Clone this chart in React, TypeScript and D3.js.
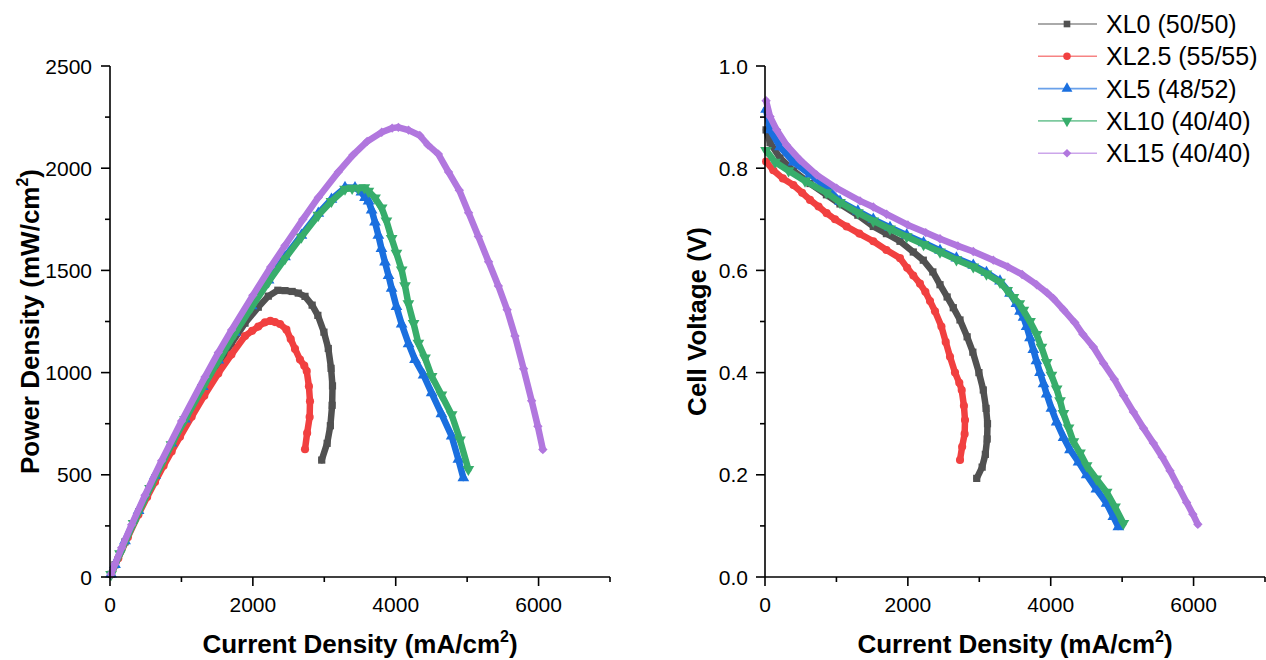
import React from 'react';
import * as d3 from 'd3';

// ---------- data ----------
const seriesNames = ['XL0 (50/50)', 'XL2.5 (55/55)', 'XL5 (48/52)', 'XL10 (40/40)', 'XL15 (40/40)'];
const seriesColors = ['#515151', '#F14040', '#1A6FDF', '#37AD6B', '#B177DE'];
const seriesMarkers = ['square', 'circle', 'triangleUp', 'triangleDown', 'diamond'];

const xl0Current = [15, 70, 210, 400, 630, 860, 1050, 1300, 1516, 1700, 1890, 2076, 2216, 2350, 2450, 2550, 2636, 2730, 2830, 2910, 2995, 3056, 3095, 3115, 3110, 3085, 3040, 2964];
const xl0Voltage = [0.875, 0.85, 0.82, 0.795, 0.77, 0.748, 0.73, 0.708, 0.686, 0.672, 0.657, 0.636, 0.62, 0.597, 0.572, 0.548, 0.527, 0.503, 0.47, 0.44, 0.4, 0.366, 0.33, 0.3, 0.27, 0.24, 0.215, 0.193];
const xl0Power = [13, 60, 172, 318, 485, 643, 767, 920, 1040, 1142, 1242, 1320, 1374, 1403, 1401, 1397, 1389, 1373, 1330, 1280, 1198, 1118, 1021, 935, 840, 740, 654, 572];

const xl25Current = [15, 116, 250, 397, 520, 630, 750, 863, 980, 1143, 1320, 1516, 1700, 1890, 1990, 2076, 2170, 2245, 2310, 2380, 2470, 2530, 2590, 2660, 2720, 2754, 2785, 2800, 2795, 2760, 2730];
const xl25Voltage = [0.813, 0.796, 0.78, 0.767, 0.752, 0.738, 0.725, 0.712, 0.7, 0.686, 0.672, 0.657, 0.64, 0.624, 0.605, 0.59, 0.574, 0.558, 0.54, 0.52, 0.49, 0.46, 0.431, 0.4, 0.38, 0.366, 0.335, 0.307, 0.28, 0.255, 0.229];
const xl25Power = [12, 92, 195, 305, 391, 465, 544, 614, 686, 784, 887, 996, 1088, 1179, 1204, 1225, 1246, 1253, 1247, 1238, 1210, 1164, 1116, 1064, 1034, 1008, 933, 860, 783, 704, 625];

const xl5Current = [15, 70, 210, 400, 630, 860, 1050, 1300, 1516, 1750, 1984, 2220, 2450, 2680, 2916, 3100, 3290, 3430, 3520, 3570, 3620, 3663, 3710, 3757, 3800, 3850, 3900, 3943, 4010, 4083, 4180, 4270, 4390, 4503, 4640, 4783, 4877, 4947];
const xl5Voltage = [0.915, 0.875, 0.842, 0.812, 0.788, 0.762, 0.735, 0.716, 0.7, 0.684, 0.669, 0.654, 0.639, 0.624, 0.61, 0.596, 0.579, 0.555, 0.535, 0.52, 0.508, 0.49, 0.468, 0.445, 0.423, 0.4, 0.378, 0.358, 0.33, 0.303, 0.273, 0.249, 0.225, 0.2, 0.172, 0.144, 0.118, 0.098];
const xl5Power = [14, 61, 177, 325, 496, 655, 772, 931, 1061, 1197, 1327, 1452, 1566, 1672, 1779, 1848, 1905, 1904, 1883, 1856, 1839, 1795, 1736, 1672, 1607, 1540, 1474, 1412, 1323, 1237, 1141, 1063, 988, 901, 798, 689, 575, 485];

const xl10Current = [15, 140, 330, 560, 860, 1050, 1300, 1516, 1750, 1984, 2220, 2450, 2680, 2916, 3100, 3290, 3390, 3477, 3560, 3617, 3710, 3803, 3870, 3943, 4010, 4083, 4130, 4177, 4250, 4317, 4410, 4503, 4640, 4783, 4900, 5017];
const xl10Voltage = [0.835, 0.812, 0.795, 0.775, 0.752, 0.733, 0.713, 0.697, 0.681, 0.666, 0.651, 0.636, 0.621, 0.607, 0.593, 0.577, 0.561, 0.547, 0.535, 0.522, 0.5, 0.475, 0.45, 0.42, 0.395, 0.368, 0.345, 0.32, 0.292, 0.265, 0.243, 0.218, 0.192, 0.166, 0.137, 0.105];
const xl10Power = [13, 114, 262, 434, 647, 770, 927, 1057, 1192, 1321, 1445, 1558, 1664, 1770, 1838, 1898, 1902, 1902, 1905, 1888, 1855, 1806, 1742, 1656, 1584, 1503, 1425, 1337, 1241, 1144, 1072, 982, 891, 794, 671, 527];

const xl15Current = [15, 70, 163, 303, 490, 723, 1003, 1330, 1516, 1703, 2000, 2250, 2450, 2700, 2916, 3197, 3400, 3600, 3804, 3950, 4037, 4180, 4337, 4450, 4597, 4740, 4890, 5020, 5157, 5300, 5437, 5560, 5670, 5790, 5903, 5990, 6060];
const xl15Voltage = [0.932, 0.901, 0.875, 0.845, 0.816, 0.787, 0.761, 0.736, 0.724, 0.71, 0.689, 0.674, 0.662, 0.648, 0.637, 0.62, 0.607, 0.592, 0.572, 0.556, 0.545, 0.523, 0.498, 0.475, 0.45, 0.418, 0.387, 0.355, 0.323, 0.291, 0.262, 0.235, 0.208, 0.176, 0.146, 0.123, 0.103];
const xl15Power = [14, 63, 143, 256, 400, 569, 763, 979, 1098, 1209, 1378, 1517, 1622, 1750, 1857, 1982, 2064, 2131, 2176, 2196, 2200, 2186, 2160, 2114, 2069, 1981, 1892, 1782, 1666, 1542, 1424, 1307, 1179, 1019, 862, 737, 624];

const currentTicks = [0, 1000, 2000, 3000, 4000, 5000, 6000, 7000];
const currentTickLabels = ['0', '', '2000', '', '4000', '', '6000', ''];
const powerTicks = [0, 250, 500, 750, 1000, 1250, 1500, 1750, 2000, 2250, 2500];
const powerTickLabels = ['0', '', '500', '', '1000', '', '1500', '', '2000', '', '2500'];
const voltageTicks = [0, 0.1, 0.2, 0.3, 0.4, 0.5, 0.6, 0.7, 0.8, 0.9, 1.0];
const voltageTickLabels = ['0.0', '', '0.2', '', '0.4', '', '0.6', '', '0.8', '', '1.0'];

const seriesData = [
  { current: xl0Current, voltage: xl0Voltage, power: xl0Power },
  { current: xl25Current, voltage: xl25Voltage, power: xl25Power },
  { current: xl5Current, voltage: xl5Voltage, power: xl5Power },
  { current: xl10Current, voltage: xl10Voltage, power: xl10Power },
  { current: xl15Current, voltage: xl15Voltage, power: xl15Power },
];

// ---------- layout ----------
const FONT = "'Liberation Sans', Arial, Helvetica, sans-serif";
const TOP = 66;
const BOTTOM = 577;

const xLeft = d3.scaleLinear().domain([0, 7000]).range([110, 610]);
const yPower = d3.scaleLinear().domain([0, 2500]).range([BOTTOM, TOP]);
const xRight = d3.scaleLinear().domain([0, 7000]).range([765, 1265]);
const yVolt = d3.scaleLinear().domain([0, 1]).range([BOTTOM, TOP]);

function markerPath(kind: string, scale = 1): { d: string; rot: number } {
  switch (kind) {
    case 'square':
      return { d: d3.symbol().type(d3.symbolSquare).size(52 * scale)() as string, rot: 0 };
    case 'circle':
      return { d: d3.symbol().type(d3.symbolCircle).size(52 * scale)() as string, rot: 0 };
    case 'triangleUp':
      return { d: d3.symbol().type(d3.symbolTriangle).size(60 * scale)() as string, rot: 0 };
    case 'triangleDown':
      return { d: d3.symbol().type(d3.symbolTriangle).size(60 * scale)() as string, rot: 180 };
    default:
      return { d: d3.symbol().type(d3.symbolSquare).size(44 * scale)() as string, rot: 45 };
  }
}

function Series({ xs, ys, x, y, color, kind }: any) {
  const pts = xs.map((v: number, i: number) => [x(v), y(ys[i])] as [number, number]);
  const line = d3.line();
  const m = markerPath(kind);
  return (
    <g>
      <path d={line(pts) as string} fill="none" stroke={color} strokeWidth={6.5} strokeLinejoin="round" strokeLinecap="round" />
      {pts.map((p: [number, number], i: number) => (
        <path key={i} d={m.d} fill={color} transform={`translate(${p[0]},${p[1]}) rotate(${m.rot})`} />
      ))}
    </g>
  );
}

function Axes({ x, y, yTicks, yLabels, yLabelX, titleX, yTitle }: any) {
  const [x0, x1] = x.range();
  return (
    <g fontFamily={FONT} fill="#000">
      <line x1={x0} x2={x1} y1={BOTTOM} y2={BOTTOM} stroke="#000" strokeWidth={1.6} />
      <line x1={x0} x2={x0} y1={BOTTOM} y2={TOP} stroke="#000" strokeWidth={1.6} />
      {currentTicks.map((t, i) => (
        <g key={'x' + i}>
          <line x1={x(t)} x2={x(t)} y1={BOTTOM} y2={BOTTOM + (currentTickLabels[i] ? 9 : 5)} stroke="#000" strokeWidth={1.6} />
          {currentTickLabels[i] && (
            <text x={x(t)} y={612} fontSize={21} textAnchor="middle">{currentTickLabels[i]}</text>
          )}
        </g>
      ))}
      {yTicks.map((t: number, i: number) => (
        <g key={'y' + i}>
          <line x1={x0} x2={x0 - (yLabels[i] ? 9 : 5)} y1={y(t)} y2={y(t)} stroke="#000" strokeWidth={1.6} />
          {yLabels[i] && (
            <text x={yLabelX} y={y(t) + 7.5} fontSize={21} textAnchor="end">{yLabels[i]}</text>
          )}
        </g>
      ))}
      <text x={(x0 + x1) / 2} y={653} fontSize={26} fontWeight="bold" textAnchor="middle">
        Current Density (mA/cm<tspan dy={-11} fontSize={16}>2</tspan><tspan dy={11}>)</tspan>
      </text>
      <text transform={`translate(${titleX},${(TOP + BOTTOM) / 2}) rotate(-90)`} fontSize={26} fontWeight="bold" textAnchor="middle">
        {yTitle}
      </text>
    </g>
  );
}

function Legend() {
  const rowY = (i: number) => 24 + i * 32.3;
  return (
    <g fontFamily={FONT}>
      {seriesNames.map((name, i) => {
        const m = markerPath(seriesMarkers[i], 0.85);
        const cy = rowY(i);
        return (
          <g key={name}>
            <line x1={1038} x2={1097} y1={cy} y2={cy} stroke={seriesColors[i]} strokeOpacity={0.65} strokeWidth={1.6} />
            <path d={m.d} fill={seriesColors[i]} transform={`translate(1067,${cy}) rotate(${m.rot})`} />
            <text x={1106} y={cy + 9} fontSize={25} fill="#000">{name}</text>
          </g>
        );
      })}
    </g>
  );
}

export default function App() {
  return (
    <svg width={1266} height={660} style={{ position: 'absolute', left: 0, top: 0, background: '#fff', display: 'block' }}>
      <rect width={1266} height={660} fill="#fff" />
      {/* Left: power density */}
      {seriesData.map((s, i) => (
        <Series key={'p' + i} xs={s.current} ys={s.power} x={xLeft} y={yPower} color={seriesColors[i]} kind={seriesMarkers[i]} />
      ))}
      <Axes
        x={xLeft}
        y={yPower}
        yTicks={powerTicks}
        yLabels={powerTickLabels}
        yLabelX={92}
        titleX={39}
        yTitle={<>Power Density (mW/cm<tspan dy={-11} fontSize={16}>2</tspan><tspan dy={11}>)</tspan></>}
      />
      {/* Right: cell voltage */}
      {seriesData.map((s, i) => (
        <Series key={'v' + i} xs={s.current} ys={s.voltage} x={xRight} y={yVolt} color={seriesColors[i]} kind={seriesMarkers[i]} />
      ))}
      <Axes
        x={xRight}
        y={yVolt}
        yTicks={voltageTicks}
        yLabels={voltageTickLabels}
        yLabelX={748}
        titleX={706}
        yTitle={'Cell Voltage (V)'}
      />
      <Legend />
    </svg>
  );
}
